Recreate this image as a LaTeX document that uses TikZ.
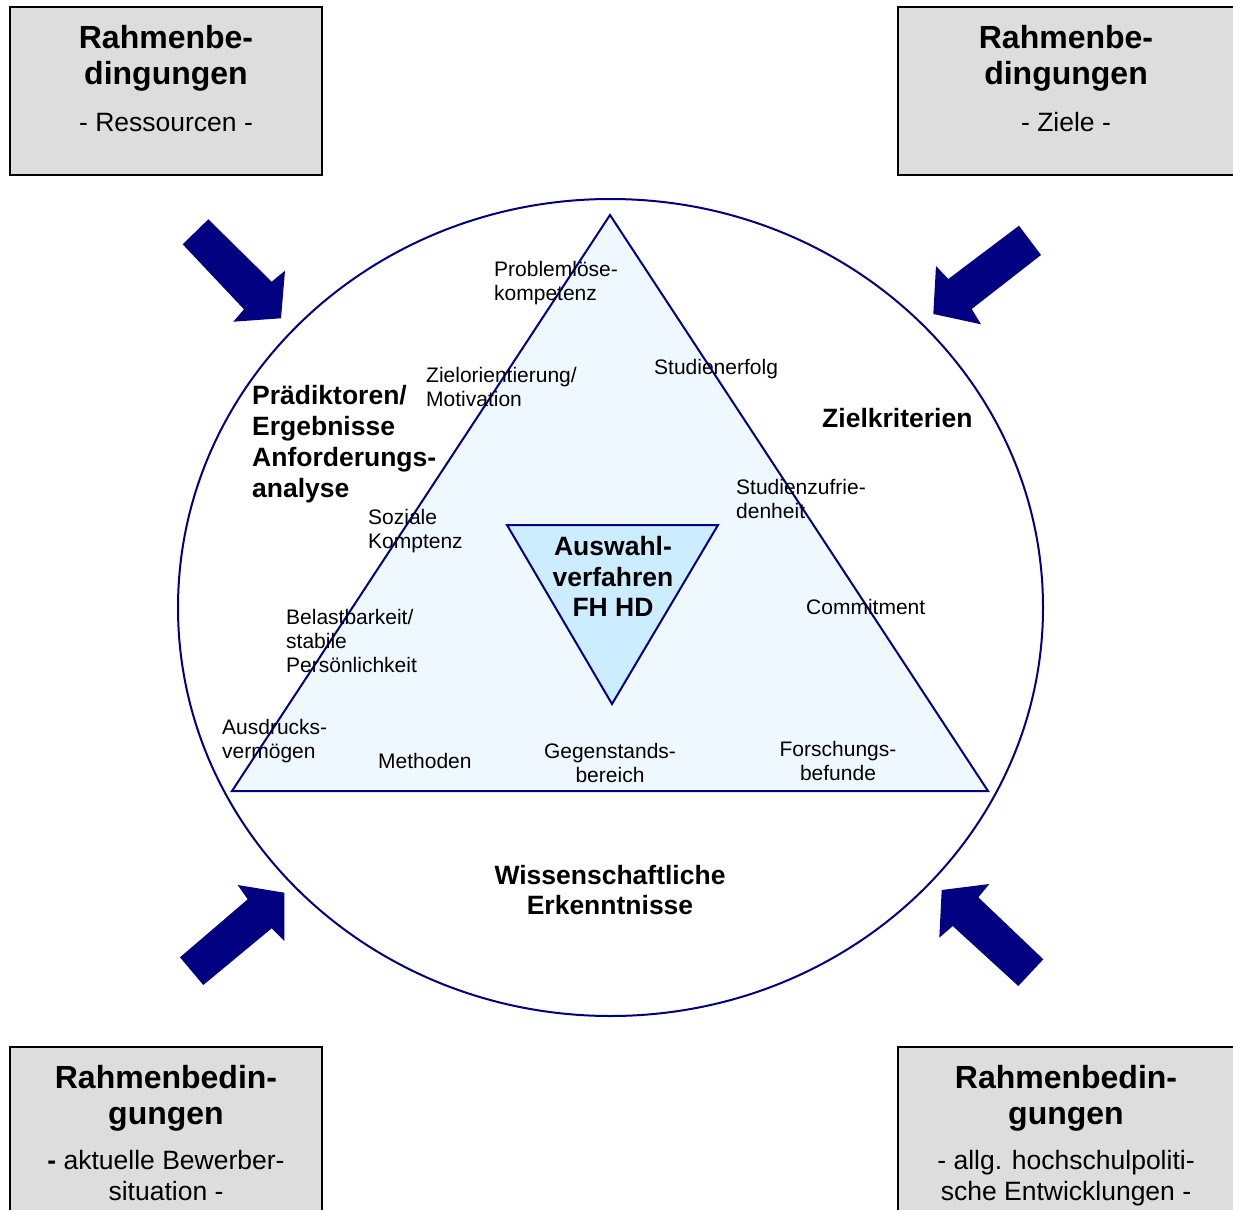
\documentclass[tikz,border=0pt]{standalone}
\usepackage{fontspec}
\setmainfont{Liberation Sans}
\definecolor{navy}{RGB}{0,0,128}
\definecolor{boxgray}{RGB}{221,221,221}
\definecolor{trifill}{RGB}{240,248,255}
\definecolor{innerfill}{RGB}{204,236,255}
\tikzset{
  frame/.style={draw=black, line width=2pt, fill=boxgray, inner sep=0pt},
  blockarrow/.style={fill=navy, draw=none},
  small/.style={font=\fontsize{21}{24}\selectfont, inner sep=0pt, align=left},
  smallc/.style={font=\fontsize{21}{24}\selectfont, inner sep=0pt, align=center},
  mid/.style={font=\fontsize{26.5}{31}\selectfont\bfseries, inner sep=0pt, align=left},
  midc/.style={font=\fontsize{26.5}{30.5}\selectfont\bfseries, inner sep=0pt, align=center},
  head/.style={font=\fontsize{32}{36}\selectfont\bfseries, inner sep=0pt, align=center},
  sub/.style={font=\fontsize{26.5}{31}\selectfont, inner sep=0pt, align=center},
}
\begin{document}
\begin{tikzpicture}[x=1pt, y=-1pt]
\useasboundingbox (0,0) rectangle (1233,1209);

% corner boxes (anchor=base refers to the last line of each text)
\draw[frame] (10,7) rectangle (322,175);
\draw[frame] (898,7) rectangle (1250,175);
\draw[frame] (10,1047) rectangle (322,1230);
\draw[frame] (898,1047) rectangle (1250,1230);

\node[head, anchor=base] (tlh) at (166,84.5) {Rahmenbe-\\dingungen};
\node[sub, anchor=base] (tls) at (166,132) {- Ressourcen -};
\node[head, anchor=base] (trh) at (1066,84.5) {Rahmenbe-\\dingungen};
\node[sub, anchor=base] (trs) at (1066,132) {- Ziele -};
\node[head, anchor=base] (blh) at (166,1124) {Rahmenbedin-\\gungen};
\node[sub, anchor=base] (bls) at (166,1200.5) {\textbf{-} aktuelle Bewerber-\\situation -};
\node[head, anchor=base] (brh) at (1066,1124) {Rahmenbedin-\\gungen};
\node[sub, anchor=base] (brs) at (1066,1200.5) {- allg. hochschulpoliti-\\sche Entwicklungen -};

% outer circle
\draw[navy, line width=2pt] (610.5,607.5) ellipse [x radius=432.5, y radius=408.5];

% main triangle and inner triangle
\draw[navy, line width=2pt, fill=trifill] (610,215) -- (988,791) -- (232,791) -- cycle;
\draw[navy, line width=2pt, fill=innerfill] (507,525) -- (718,525) -- (612,704) -- cycle;

% block arrows
\fill[blockarrow] (208.3,219.3) -- (271.7,281.7) -- (285,270.7) -- (281,318.3)
  -- (233.3,321.7) -- (244,309.3) -- (182.7,244.3) -- cycle;
\fill[blockarrow] (1019,225.7) -- (948.3,279) -- (936,266) -- (933.3,314)
  -- (981,324.3) -- (971.7,309) -- (1041,255) -- cycle;
\fill[blockarrow] (180,957.3) -- (247.7,899.3) -- (237.7,885) -- (284.3,892.7)
  -- (284.3,941) -- (271.7,928.3) -- (203.3,985) -- cycle;
\fill[blockarrow] (1043.3,959.3) -- (978.3,897.3) -- (989.3,884) -- (941.7,890)
  -- (939.3,937.7) -- (952.7,926) -- (1018.3,986) -- cycle;

% labels
\node[small, anchor=base west] (plk) at (494,300) {Problemlöse-\\kompetenz};
\node[small, anchor=base west] (zom) at (426,406) {Zielorientierung/\\Motivation};
\node[small, anchor=base west] (ser) at (654,374) {Studienerfolg};
\node[small, anchor=base west] (szu) at (736,518) {Studienzufrie-\\denheit};
\node[small, anchor=base west] (sko) at (368,548) {Soziale\\Komptenz};
\node[small, anchor=base west] (com) at (806,614) {Commitment};
\node[small, anchor=base west] (bel) at (286,672) {Belastbarkeit/\\stabile\\Persönlichkeit};
\node[small, anchor=base west] (aus) at (222,758) {Ausdrucks-\\vermögen};
\node[small, anchor=base west] (met) at (378,768) {Methoden};
\node[smallc, anchor=base] (geg) at (610,782) {Gegenstands-\\bereich};
\node[smallc, anchor=base] (for) at (838,780) {Forschungs-\\befunde};

\node[mid, anchor=base west] (pra) at (252,497.5) {Prädiktoren/\\Ergebnisse\\Anforderungs-\\analyse};
\node[mid, anchor=base west] (zkr) at (822,427.5) {Zielkriterien};
\node[midc, anchor=base] (wis) at (610,914.5) {Wissenschaftliche\\Erkenntnisse};
\node[midc, anchor=base] (afv) at (613,616.5) {Auswahl-\\verfahren\\FH HD};
\end{tikzpicture}
\end{document}
